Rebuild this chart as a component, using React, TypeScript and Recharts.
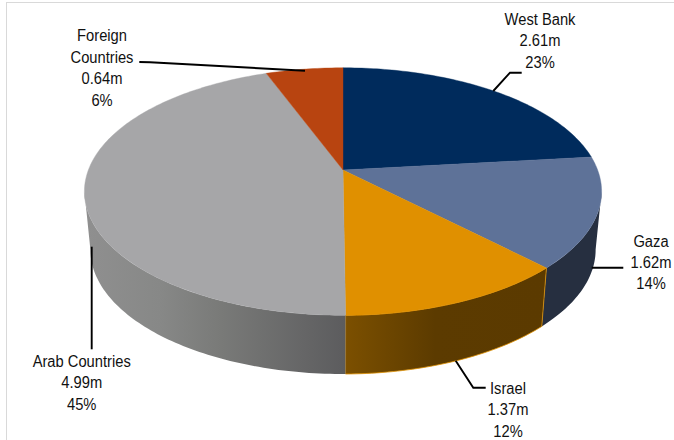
import React from "react";
import { PieChart, Pie } from "recharts";

const regions = ["West Bank", "Gaza", "Israel", "Arab Countries", "Foreign Countries"];
const populationMillions = [2.61, 1.62, 1.37, 4.99, 0.64];
const shareLabels = ["23%", "14%", "12%", "45%", "6%"];
const valueLabels = ["2.61m", "1.62m", "1.37m", "4.99m", "0.64m"];
const tableData = regions.map((name, i) => ({ name, value: populationMillions[i] }));

const faceColors = ["#002b5c", "#5e7298", "#e09000", "#a6a6a8", "#b84410"];
const wallColors = ["#00193a", "#262f40", "url(#israelWall)", "url(#arabWall)", "#7a2d0a"];

const CX = 343;
const CY = 170;
const RADIUS = 120;
const WIDTH_RATIO = 2.122;
const TILT = 0.174;
// The rim's silhouette points: only this stretch of the side wall faces the viewer.
const WALL_VISIBLE_FROM = 100;
const WALL_VISIBLE_TO = 260;

// Perspective projection of a point on the disc's rim; theta runs clockwise from 12 o'clock.
const project = (theta: number, r: number, xScale: number, yOrigin: number, yScale: number) => {
  const t = (theta * Math.PI) / 180;
  const u = Math.sin(t);
  const v = -Math.cos(t);
  const d = 1 - TILT * v;
  return [CX + (r * WIDTH_RATIO * xScale * u) / d, yOrigin + (r * yScale * v) / d];
};

const rim = (from: number, to: number, r: number, xScale: number, yOrigin: number, yScale: number) => {
  const steps = Math.max(2, Math.ceil(Math.abs(to - from)));
  const pts: string[] = [];
  for (let i = 0; i <= steps; i++) {
    const [x, y] = project(from + ((to - from) * i) / steps, r, xScale, yOrigin, yScale);
    pts.push(`${x.toFixed(2)},${y.toFixed(2)}`);
  }
  return pts;
};

const TopFace = (props: any) => {
  const from = 90 - props.startAngle;
  const to = 90 - props.endAngle;
  const fill = faceColors[props.index ?? regions.indexOf(props.name)];
  const d = `M${CX},${CY} L${rim(from, to, props.outerRadius, 1, CY, 1).join(" L")} Z`;
  return <path d={d} fill={fill} stroke={fill} strokeWidth={0.4} />;
};

const Wall = (props: any) => {
  const from = Math.max(90 - props.startAngle, WALL_VISIBLE_FROM);
  const to = Math.min(90 - props.endAngle, WALL_VISIBLE_TO);
  if (to <= from) return <g />;
  const idx = props.index ?? regions.indexOf(props.name);
  const upper = rim(from, to, props.outerRadius, 1, CY, 1);
  const lower = rim(to, from, props.outerRadius, 0.977, 228, 1.005);
  const d = `M${upper.join(" L")} L${lower.join(" L")} Z`;
  return (
    <g>
      <defs>
        <linearGradient id="arabWall" gradientUnits="userSpaceOnUse" x1="88" y1="0" x2="345" y2="0">
          <stop offset="0" stopColor="#8f8f8f" />
          <stop offset="0.28" stopColor="#878887" />
          <stop offset="0.5" stopColor="#7a7b79" />
          <stop offset="1" stopColor="#5c5c5e" />
        </linearGradient>
        <linearGradient id="israelWall" gradientUnits="userSpaceOnUse" x1="345" y1="0" x2="545" y2="0">
          <stop offset="0" stopColor="#7c5000" />
          <stop offset="0.45" stopColor="#5c3b00" />
          <stop offset="1" stopColor="#5b3a00" />
        </linearGradient>
      </defs>
      <path
        d={d}
        fill={wallColors[idx]}
        stroke={idx === 2 ? "#e09000" : "none"}
        strokeWidth={idx === 2 ? 0.8 : 0}
      />
    </g>
  );
};

// Callout text blocks and their leader lines, in region order.
const labelBlocks = [
  { x: 540, baselines: [25, 46, 67.5], lines: ["West Bank"], leader: "521.7,72.7 510,72.7 493.3,91" },
  { x: 651, baselines: [246.7, 267.7, 289], lines: ["Gaza"], leader: "623.3,267.7 591.7,267.7" },
  { x: 508, baselines: [394, 415, 436.5], lines: ["Israel"], leader: "485.7,387.7 473.3,387.7 455.7,360.7" },
  { x: 81.7, baselines: [366.7, 388, 410], lines: ["Arab Countries"], leader: "91.7,246.7 91.7,349.3" },
  { x: 102, baselines: [40.7, 62.5, 84, 106], lines: ["Foreign", "Countries"], leader: "139.3,62 150,62.3 305,70.7" },
];

const Callout = (props: any) => {
  const block = labelBlocks[props.index];
  const texts = [...block.lines, valueLabels[props.index], shareLabels[props.index]];
  return (
    <g>
      <polyline points={block.leader} fill="none" stroke="#000" strokeWidth={1.9} />
      {texts.map((t, i) => (
        <text
          key={t}
          transform={`translate(${block.x},${block.baselines[i]}) scale(0.92,1)`}
          textAnchor="middle"
          fontFamily="'Liberation Sans', Arial, sans-serif"
          fontSize={16}
          fill="#111"
        >
          {t}
        </text>
      ))}
    </g>
  );
};

export default function App() {
  return (
    <div style={{ position: "absolute", left: 0, top: 0, width: 674, height: 440, overflow: "hidden", background: "#fff" }}>
      <div
        style={{
          position: "absolute",
          left: 6,
          top: 2,
          width: 668,
          height: 438,
          borderTop: "1.5px solid #d9d9d9",
          borderLeft: "1.5px solid #d9d9d9",
          boxSizing: "border-box",
        }}
      />
      <div style={{ position: "absolute", left: 0, top: 0 }}>
        <PieChart width={674} height={440} margin={{ top: 0, right: 0, bottom: 0, left: 0 }}>
          <Pie
            data={tableData}
            dataKey="value"
            nameKey="name"
            cx={CX}
            cy={CY}
            outerRadius={RADIUS}
            startAngle={90}
            endAngle={-270}
            shape={Wall}
            isAnimationActive={false}
            labelLine={false}
            legendType="none"
          />
          <Pie
            data={tableData}
            dataKey="value"
            nameKey="name"
            cx={CX}
            cy={CY}
            outerRadius={RADIUS}
            startAngle={90}
            endAngle={-270}
            shape={TopFace}
            isAnimationActive={false}
            labelLine={false}
            label={Callout}
            legendType="none"
          />
        </PieChart>
      </div>
    </div>
  );
}
